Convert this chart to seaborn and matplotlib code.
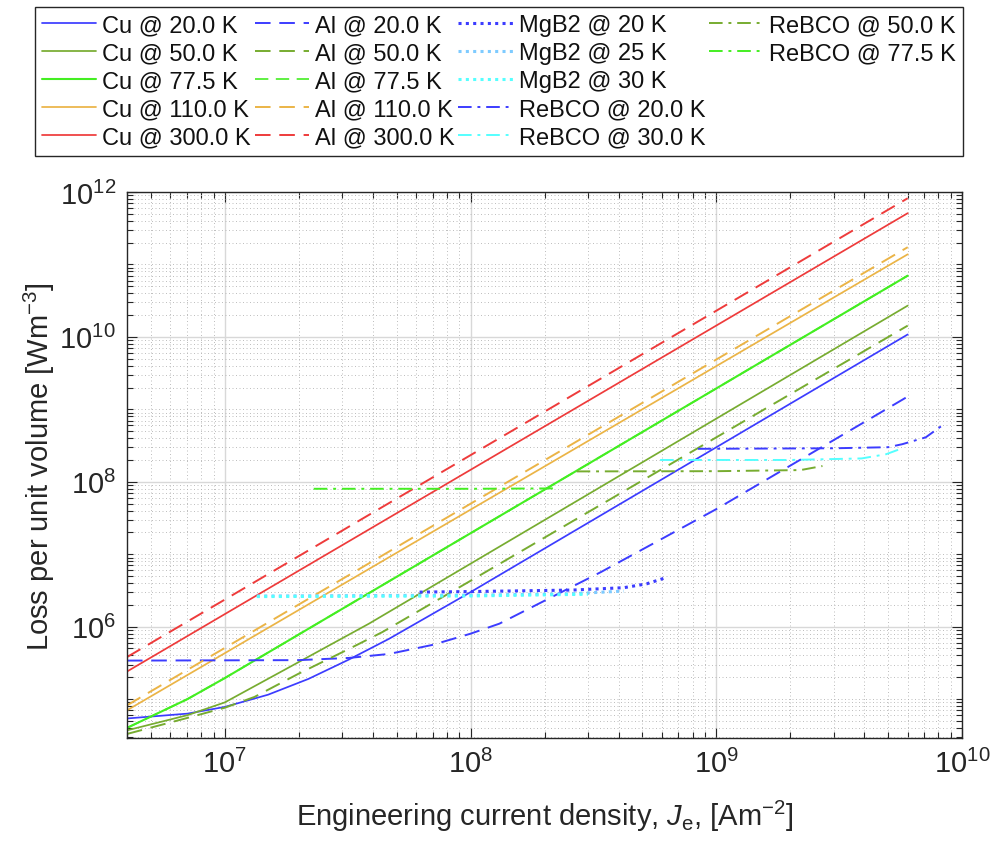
import matplotlib
matplotlib.use("Agg")
import matplotlib.pyplot as plt
from matplotlib.lines import Line2D
from matplotlib.ticker import FixedLocator, LogLocator, LogFormatterSciNotation, NullFormatter
import pandas as pd
import seaborn as sns

# ---- data: engineering current density J (A/m^2) and loss per unit volume P (W/m^3) ----
cu20_j = [4e6, 7.05e6, 1e7, 1.5e7, 2.19e7, 3.19e7, 4.66e7, 1e8, 6e9]
cu20_p = [5.4e4, 6.3e4, 7.8e4, 1.15e5, 1.9e5, 3.5e5, 6.8e5, 3.0e6, 1.08e10]
cu50_j = [4e6, 7.05e6, 1e7, 1.81e7, 3.86e7, 1e8, 6e9]
cu50_p = [3.7e4, 6.0e4, 9.0e4, 2.7e5, 1.1e6, 7.4e6, 2.7e10]
cu77_j = [4e6, 7.05e6, 1e7, 1e8, 6e9]
cu77_p = [4.0e4, 1.0e5, 1.95e5, 1.95e7, 7.0e10]
cu110_j = [4e6, 6e9]
cu110_p = [7.0e4, 1.38e11]
cu300_j = [4e6, 6e9]
cu300_p = [2.4e5, 5.1e11]

al20_j = [4e6, 2e7, 3.2e7, 4.66e7, 7e7, 1e8, 1.31e8, 3.4e8, 1e9, 6e9]
al20_p = [3.4e5, 3.45e5, 3.7e5, 4.2e5, 5.6e5, 8.0e5, 1.1e6, 5.7e6, 4.2e7, 1.5e9]
al50_j = [4e6, 7.05e6, 1e7, 1.32e7, 2e7, 3.19e7, 4.37e7, 1e8, 6e9]
al50_p = [3.3e4, 5.5e4, 7.6e4, 1.07e5, 2.25e5, 4.9e5, 8.4e5, 4.3e6, 1.43e10]
al77_j = [4e6, 7.05e6, 1e7, 1e8, 6e9]
al77_p = [4.0e4, 1.0e5, 1.95e5, 1.95e7, 7.0e10]
al110_j = [4e6, 6e9]
al110_p = [8.2e4, 1.73e11]
al300_j = [4e6, 6e9]
al300_p = [3.8e5, 8.2e11]

mgb20_j = [6.2e7, 1e8, 2.6e8, 4.2e8, 5.2e8, 6.3e8]
mgb20_p = [3.0e6, 3.05e6, 3.2e6, 3.45e6, 3.9e6, 4.8e6]
mgb25_j = [1.35e7, 1e8, 2.6e8, 4.2e8]
mgb25_p = [2.65e6, 2.72e6, 2.85e6, 3.1e6]
mgb30_j = [1.35e7, 1e8, 3e8]
mgb30_p = [2.6e6, 2.65e6, 2.8e6]

rebco20_j = [8.4e8, 3e9, 5.0e9, 5.7e9, 7.1e9, 8.3e9]
rebco20_p = [2.85e8, 2.9e8, 3.0e8, 3.3e8, 4.1e8, 6.0e8]
rebco30_j = [5.9e8, 2e9, 3.9e9, 4.9e9, 5.7e9]
rebco30_p = [2.0e8, 2.0e8, 2.1e8, 2.4e8, 2.9e8]
rebco50_j = [2.7e8, 1e9, 2.2e9, 2.7e9]
rebco50_p = [1.39e8, 1.4e8, 1.45e8, 1.65e8]
rebco77_j = [2.3e7, 1e8, 2.25e8]
rebco77_p = [8.0e7, 8.0e7, 8.1e7]

# ---- styling ----
BLUE = "#3c3cff"
OLIVE = "#77ac30"
GREEN = "#44ee22"
GOLD = "#ebb446"
RED = "#ee3b3b"
LIGHTBLUE = "#7ecbff"
CYAN = "#55ffff"
INK = "#262626"

SOLID = "-"
DASH = (0, (8, 4.5))
DOT = (0, (1.0, 1.4))
DASHDOT = (0, (7, 3, 1.5, 3))

# (label, J, P, colour, linestyle, linewidth)
series = [
    ("Cu @ 20.0 K", cu20_j, cu20_p, BLUE, SOLID, 1.25),
    ("Cu @ 50.0 K", cu50_j, cu50_p, OLIVE, SOLID, 1.25),
    ("Cu @ 77.5 K", cu77_j, cu77_p, GREEN, SOLID, 1.5),
    ("Cu @ 110.0 K", cu110_j, cu110_p, GOLD, SOLID, 1.25),
    ("Cu @ 300.0 K", cu300_j, cu300_p, RED, SOLID, 1.25),
    ("Al @ 20.0 K", al20_j, al20_p, BLUE, DASH, 1.4),
    ("Al @ 50.0 K", al50_j, al50_p, OLIVE, DASH, 1.4),
    ("Al @ 77.5 K", al77_j, al77_p, GREEN, DASH, 1.2),
    ("Al @ 110.0 K", al110_j, al110_p, GOLD, DASH, 1.4),
    ("Al @ 300.0 K", al300_j, al300_p, RED, DASH, 1.4),
    ("MgB2 @ 20 K", mgb20_j, mgb20_p, BLUE, DOT, 2.2),
    ("MgB2 @ 25 K", mgb25_j, mgb25_p, LIGHTBLUE, DOT, 2.2),
    ("MgB2 @ 30 K", mgb30_j, mgb30_p, CYAN, DOT, 2.2),
    ("ReBCO @ 20.0 K", rebco20_j, rebco20_p, BLUE, DASHDOT, 1.4),
    ("ReBCO @ 30.0 K", rebco30_j, rebco30_p, CYAN, DASHDOT, 1.4),
    ("ReBCO @ 50.0 K", rebco50_j, rebco50_p, OLIVE, DASHDOT, 1.4),
    ("ReBCO @ 77.5 K", rebco77_j, rebco77_p, GREEN, DASHDOT, 1.4),
]

sns.set_theme(style="ticks")
plt.rcParams["font.family"] = ["Liberation Sans", "DejaVu Sans"]
plt.rcParams["mathtext.fontset"] = "custom"
plt.rcParams["mathtext.rm"] = "Liberation Sans"
plt.rcParams["mathtext.it"] = "Liberation Sans:italic"
plt.rcParams["mathtext.default"] = "regular"
plt.rcParams["text.color"] = INK
plt.rcParams["axes.labelcolor"] = INK

fig = plt.figure(figsize=(9.92, 8.45), dpi=100)
ax = fig.add_axes([0.128, 0.1254, 0.842, 0.6462])

# draw order: Al @ 77.5 K beneath the copper line at the same temperature
draw_order = [7] + [i for i in range(len(series)) if i != 7]
handles = {}
for i in draw_order:
    label, j, p, color, ls, lw = series[i]
    df = pd.DataFrame({"J": j, "P": p})
    sns.lineplot(data=df, x="J", y="P", ax=ax, color=color, linestyle=ls,
                 linewidth=lw, sort=False, estimator=None, legend=False)
    handles[i] = ax.get_lines()[-1]
    handles[i].set_label(label)

ax.set_xscale("log")
ax.set_yscale("log")
ax.set_xlim(4e6, 1e10)
ax.set_ylim(2.9e4, 1e12)

ax.yaxis.set_major_locator(FixedLocator([1e4, 1e6, 1e8, 1e10, 1e12]))
ax.yaxis.set_major_formatter(LogFormatterSciNotation())
ax.yaxis.set_minor_locator(LogLocator(base=10, subs=range(1, 10), numticks=40))
ax.yaxis.set_minor_formatter(NullFormatter())
ax.xaxis.set_major_locator(LogLocator(base=10, subs=(1.0,), numticks=20))
ax.xaxis.set_minor_locator(LogLocator(base=10, subs=range(2, 10), numticks=40))
ax.xaxis.set_minor_formatter(NullFormatter())

ax.grid(which="major", color="#d8d8d8", linewidth=1.0, linestyle="-")
ax.grid(which="minor", color="#b4b4b4", linewidth=0.6, linestyle=(0, (1.2, 3.0)))
ax.set_axisbelow(True)

ax.tick_params(which="both", direction="in", top=True, right=True, colors=INK,
               labelsize=21, width=0.8)
ax.tick_params(which="major", length=7, pad=8)
ax.tick_params(which="minor", length=4)
for s in ax.spines.values():
    s.set_color(INK)
    s.set_linewidth(1.0)

ax.set_xlabel(r"Engineering current density, $\mathit{J}_{e}$, [Am$^{-2}$]",
              fontsize=21, labelpad=14)
ax.set_ylabel(r"Loss per unit volume [Wm$^{-3}$]", fontsize=21, labelpad=2)

# legend: four columns of five rows, column-major
blank = Line2D([], [], color="none")
leg_handles = [handles[i] for i in range(len(series))] + [blank] * 3
leg_labels = [s[0] for s in series] + [""] * 3
leg = fig.legend(leg_handles, leg_labels, ncol=4, loc="upper left",
                 bbox_to_anchor=(35 / 992, 1 - 157 / 845, 928 / 992, 149 / 845),
                 mode="expand", fontsize=17, frameon=True, fancybox=False,
                 edgecolor=INK, framealpha=1, handlelength=2.3,
                 handletextpad=0.25, labelspacing=0.26, borderpad=0.3,
                 borderaxespad=0, columnspacing=0.4)
leg.get_frame().set_linewidth(1.0)
for t in leg.get_texts():
    t.set_color("#111111")

fig.savefig("out.png", dpi=100)
